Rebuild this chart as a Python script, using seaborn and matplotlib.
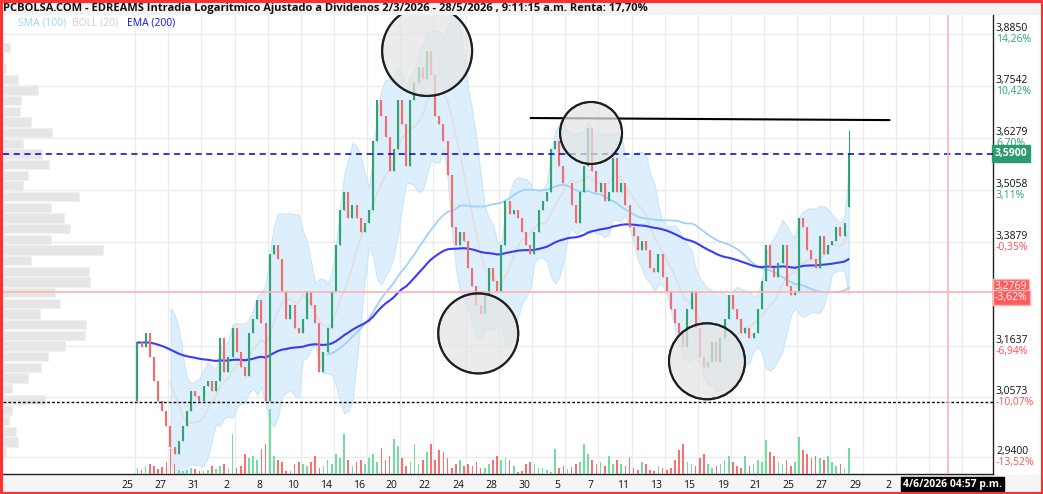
import numpy as np
import pandas as pd
import matplotlib.pyplot as plt
from matplotlib.patches import Rectangle
from matplotlib.ticker import NullLocator
import seaborn as sns

# ---- data (4 intraday bars per session) ----
bars_per_day = 4
hourly_per_day = 8.5   # original chart uses ~hourly bars
first_open = 3.05
closes = [
    3.17, 3.16, 3.19, 3.14,   # 25 mar
    3.09, 3.05, 3.03, 3.00,   # 26
    2.96, 2.945, 2.97, 3.00,  # 27
    3.03, 3.07, 3.06, 3.05,   # 30
    3.08, 3.09, 3.07, 3.09,   # 31
    3.18, 3.11, 3.14, 3.20,   # 1 apr
    3.15, 3.12, 3.10, 3.19,   # 2
    3.22, 3.26, 3.21, 3.05,   # 7
    3.36, 3.38, 3.35, 3.28,   # 8
    3.22, 3.25, 3.20, 3.19,   # 9
    3.22, 3.28, 3.25, 3.21,   # 10
    3.11, 3.15, 3.20, 3.28,   # 13
    3.38, 3.46, 3.50, 3.44,   # 14
    3.47, 3.44, 3.41, 3.43,   # 15
    3.46, 3.62, 3.72, 3.68,   # 16
    3.63, 3.55, 3.60, 3.72,   # 17
    3.66, 3.56, 3.72, 3.76,   # 20
    3.80, 3.77, 3.84, 3.78,   # 21
    3.68, 3.66, 3.62, 3.54,   # 22
    3.42, 3.38, 3.41, 3.39,   # 23
    3.33, 3.29, 3.25, 3.23,   # 24
    3.27, 3.33, 3.30, 3.28,   # 27
    3.38, 3.48, 3.45, 3.46,   # 28
    3.44, 3.41, 3.38, 3.36,   # 29
    3.41, 3.46, 3.48, 3.50,   # 30
    3.60, 3.62, 3.56, 3.52,   # 4 may
    3.52, 3.47, 3.43, 3.50,   # 5
    3.56, 3.65, 3.55, 3.50,   # 6
    3.52, 3.48, 3.50, 3.58,   # 7
    3.50, 3.52, 3.47, 3.42,   # 8
    3.40, 3.37, 3.39, 3.37,   # 11
    3.33, 3.32, 3.36, 3.31,   # 12
    3.28, 3.24, 3.21, 3.19,   # 13
    3.16, 3.24, 3.28, 3.20,   # 14
    3.14, 3.12, 3.13, 3.17,   # 15
    3.13, 3.18, 3.22, 3.27,   # 18
    3.24, 3.22, 3.19, 3.20,   # 19
    3.18, 3.19, 3.24, 3.30,   # 20
    3.38, 3.33, 3.31, 3.34,   # 21
    3.38, 3.29, 3.27, 3.28,   # 22
    3.44, 3.42, 3.37, 3.35,   # 25
    3.33, 3.40, 3.36, 3.38,   # 26
    3.39, 3.42, 3.40, 3.43,   # 27
    3.59,                     # 28 (first bar)
]
last_open = 3.466
last_high = 3.646
volumes = [
    6, 4, 8, 10,  8, 5, 7, 12,  25, 10, 4, 3,  4, 6, 5, 3,  3, 4, 8, 5,
    8, 10, 6, 40,  6, 8, 20, 16,  18, 14, 25, 30,  65, 18, 14, 12,  3, 3, 10, 12,
    10, 8, 12, 18,  6, 8, 14, 10,  20, 16, 40, 14,  8, 12, 14, 10,  16, 20, 12, 26,
    14, 18, 35, 28,  16, 8, 12, 30,  10, 14, 22, 30,  14, 24, 22, 16,  6, 10, 14, 8,
    10, 8, 12, 6,  6, 10, 14, 18,  14, 16, 14, 8,  2, 3, 10, 12,  10, 6, 6, 4,
    2, 25, 6, 8,  5, 7, 10, 12,  30, 20, 14, 10,  12, 8, 18, 10,  14, 10, 8, 16,
    6, 4, 12, 10,  4, 3, 8, 6,  4, 6, 14, 24,  30, 12, 10, 8,  16, 20, 10, 6,
    8, 10, 14, 18,  12, 8, 6, 18,  8, 10, 14, 12,  34, 22, 18, 12,  10, 14, 8, 12,
    37, 24, 20, 16,  18, 16, 14, 18,  12, 8, 10, 6,
    26,
]

# volume profile (left side), top bin to bottom bin
profile_vol = [7, 0, 3, 15, 35, 18, 17, 28, 49, 20, 39, 46, 25, 20, 76, 48, 61, 67, 48, 100,
               28, 86, 87, 52, 57, 37, 83, 82, 62, 45, 38, 25, 9, 42, 9, 6, 13, 15, 3]
profile_top, profile_bottom = 3.850, 2.948

tick_days = [0, 2, 4, 6, 8, 10, 12, 14, 16, 18, 20, 22, 24, 26, 28, 30, 32, 34, 36, 38, 40, 42, 44, 46]
tick_labels = ["25", "27", "31", "2", "8", "10", "14", "16", "20", "22", "24", "28", "30",
               "5", "7", "11", "13", "15", "19", "21", "25", "27", "29", "2"]

price_ticks = [3.8850, 3.7542, 3.6279, 3.5058, 3.3879, 3.1637, 3.0573, 2.9400]
pct_labels = ["14,26%", "10,42%", "6,70%", "3,11%", "-0,35%", "-6,94%", "-10,07%", "-13,52%"]
last_price = 3.59
ref_price = 3.2769
ref_pct = "-3,62%"
support = 3.049
resist_days = [23.9, 45.6]
resist_prices = [3.675, 3.670]
marker_day = 49.1
circle_days = [17.64, 20.73, 27.55, 34.56]
circle_prices = [3.841, 3.189, 3.639, 3.131]
circle_radius = [45, 40, 31, 38]   # pixels

title = ("PCBOLSA.COM - EDREAMS Intradia Logaritmico Ajustado a Dividenos "
         "2/3/2026 - 28/5/2026 , 9:11:15 a.m. Renta: 17,70%")

# ---- build the frame ----
n = len(closes)
day_idx = np.arange(n) // bars_per_day
xs = day_idx + (np.arange(n) % bars_per_day + 0.5) / bars_per_day
df = pd.DataFrame({"x": xs, "close": closes, "vol": volumes})
df["open"] = df["close"].shift(1).fillna(first_open)
df.loc[n - 1, "open"] = last_open
df["high"] = df[["open", "close"]].max(axis=1)
df["low"] = df[["open", "close"]].min(axis=1)
df.loc[n - 1, "high"] = last_high
df["up"] = df["close"] >= df["open"]

sma_n = round(100 * bars_per_day / hourly_per_day)
boll_n = round(20 * bars_per_day / hourly_per_day)
ema_n = round(200 * bars_per_day / hourly_per_day)
df["sma"] = df["close"].rolling(sma_n).mean()
df["mid"] = df["close"].rolling(boll_n).mean()
sd = df["close"].rolling(boll_n).std(ddof=0)
df["bup"] = df["mid"] + 2 * sd
df["blo"] = df["mid"] - 2 * sd
df["ema"] = df["close"].ewm(span=ema_n, adjust=False).mean()

sns.set_theme(style="white")
plt.rcParams["font.family"] = ["Open Sans", "DejaVu Sans"]

W, H = 1043, 494
fig = plt.figure(figsize=(W / 100, H / 100), dpi=100)
fig.patch.set_facecolor("white")
rect = [3 / W, 20 / H, 990 / W, 459 / H]
ymin, ymax = 2.907, 3.933
xmin, xmax = -8.0, 51.85

# volume profile
ax_prof = fig.add_axes(rect, label="profile")
ax_prof.set_yscale("log")
ax_prof.set_ylim(ymin, ymax)
ax_prof.set_xlim(0, 990)
centers = np.geomspace(profile_top, profile_bottom, len(profile_vol))
ax_prof.barh(centers, profile_vol, height=centers * 0.0061, left=0,
             color="#e6e6e6", edgecolor="#f0f0f0", linewidth=0.6)
ax_prof.axis("off")

# price panel
ax = fig.add_axes(rect, label="price")
ax.set_facecolor("none")
ax.set_yscale("log")
ax.set_ylim(ymin, ymax)
ax.set_xlim(xmin, xmax)
ax.yaxis.set_minor_locator(NullLocator())
ax.set_yticks(price_ticks + [ref_price])
ax.set_yticklabels([])
ax.set_xticks(np.arange(0, 51, 2))
ax.set_xticklabels([])
ax.set_xticks([d - 0.5 for d in tick_days], minor=True)
ax.set_xticklabels(tick_labels, minor=True)
ax.tick_params(axis="both", which="both", length=0)
ax.tick_params(axis="x", which="minor", labelsize=7.5, pad=4, colors="#111111")
ax.grid(True, which="major", color="#ebebeb", lw=1)
ax.set_axisbelow(True)
for s in ["top", "left"]:
    ax.spines[s].set_visible(False)
for s in ["right", "bottom"]:
    ax.spines[s].set_color("#222222")
    ax.spines[s].set_linewidth(1)

# bollinger band + indicators
ax.fill_between(df["x"], df["blo"], df["bup"], color="#d8edfc", alpha=0.85,
                edgecolor="#c4e2fa", lw=0.8, zorder=1)
sns.lineplot(x=df["x"], y=df["mid"], ax=ax, color="#e2dede", lw=1.2, zorder=2)
sns.lineplot(x=df["x"], y=df["sma"], ax=ax, color="#9ed2fb", lw=1.3, zorder=3)
sns.lineplot(x=df["x"], y=df["ema"], ax=ax, color="#3a3aff", lw=1.5, zorder=4)
ax.set_xlabel("")
ax.set_ylabel("")

# candles
ccol = np.where(df["up"], "#31a373", "#f26d6d")
ax.vlines(df["x"], df["low"], df["high"], colors=ccol, lw=0.8, zorder=5)
ax.vlines(df["x"], df[["open", "close"]].min(axis=1), df[["open", "close"]].max(axis=1),
          colors=ccol, lw=1.5, zorder=5)

# reference lines
ax.axhline(last_price, color="#0000cc", ls=(0, (4, 3)), lw=1.1, zorder=6)
ax.axhline(ref_price, color="#ffb3b3", lw=1.2, zorder=6)
ax.axhline(support, color="black", ls=(0, (2, 1.5)), lw=1.0, zorder=6)
ax.axvline(marker_day, color="#ffb3b3", lw=1.2, zorder=6)
ax.plot(resist_days, resist_prices, color="black", lw=1.5, zorder=7)

# hand-drawn circles
ax.scatter(circle_days, circle_prices, s=[(2 * r * 0.72) ** 2 for r in circle_radius],
           facecolor="#e4e4e4", edgecolor="#1e1e1e", linewidth=1.5, alpha=0.72, zorder=8)
ax.scatter(circle_days, circle_prices, s=[(2 * r * 0.72) ** 2 for r in circle_radius],
           facecolor="none", edgecolor="#1e1e1e", linewidth=1.5, zorder=9)

# right-hand price labels
ytr = ax.get_yaxis_transform()
for p, pct in zip(price_ticks, pct_labels):
    ax.text(1.003, p, f"{p:.4f}".replace(".", ","), transform=ytr, va="bottom", ha="left",
            fontsize=7.5, color="#111111", clip_on=False)
    ax.text(1.003, p, pct, transform=ytr, va="top", ha="left", fontsize=7.5,
            color="#2aa86a" if not pct.startswith("-") else "#ff5050", clip_on=False)
ax.text(1.002, last_price, f"{last_price:.4f}".replace(".", ","), transform=ytr, va="center",
        ha="left", fontsize=7.5, color="white", weight="bold", clip_on=False,
        bbox=dict(boxstyle="square,pad=0.25", fc="#2a9d6e", ec="#2a9d6e"))
ax.text(1.002, ref_price, f"{ref_price:.4f}".replace(".", ","), transform=ytr, va="bottom",
        ha="left", fontsize=7.5, color="white", clip_on=False,
        bbox=dict(boxstyle="square,pad=0.2", fc="#ff5c5c", ec="#ffb3b3"))
ax.text(1.002, ref_price, ref_pct, transform=ytr, va="top", ha="left", fontsize=7.5,
        color="white", clip_on=False,
        bbox=dict(boxstyle="square,pad=0.2", fc="#ff5c5c", ec="#ffb3b3"))

# volume bars
ax_vol = fig.add_axes(rect, label="vol", sharex=ax)
ax_vol.set_facecolor("none")
ax_vol.set_ylim(0, 459)
vcol = np.where(df["up"], "#74dca3", "#f57272")
ax_vol.bar(df["x"], df["vol"], width=0.1, color=vcol, linewidth=0)
ax_vol.axis("off")

# date box on the time axis
ax.text(marker_day + 0.3, -0.022, "4/6/2026 04:57 p.m.", transform=ax.get_xaxis_transform(),
        ha="center", va="center", fontsize=7.5, weight="bold", color="white", clip_on=False,
        zorder=10, bbox=dict(boxstyle="square,pad=0.15", fc="black", ec="black"))

# header, legend, frame
fig.patches.append(Rectangle((0, 1 - 15 / H), 1, 15 / H, transform=fig.transFigure,
                             fc="#f3f3f3", ec="none", zorder=-1))
fig.patches.append(Rectangle((0, 2 / H), 1, 17 / H, transform=fig.transFigure,
                             fc="#f5f5f5", ec="none", zorder=-1))
fig.text(3 / W, 1 - 8 / H, title, va="center", ha="left", fontsize=8.0, weight="bold",
         color="#111111")
fig.text(18 / W, 1 - 23 / H, "SMA (100)", va="center", fontsize=7.5, color="#9ed2fb")
fig.text(72 / W, 1 - 23 / H, "BOLL (20)", va="center", fontsize=7.5, color="#d0d0d0")
fig.text(127 / W, 1 - 23 / H, "EMA (200)", va="center", fontsize=7.5, color="#1010e0")
fig.patches.append(Rectangle((0.0012, 0.002), 0.9975, 0.995, transform=fig.transFigure,
                             fill=False, ec="#ff3030", lw=2.2, zorder=20))

fig.savefig("out.png", dpi=100)
